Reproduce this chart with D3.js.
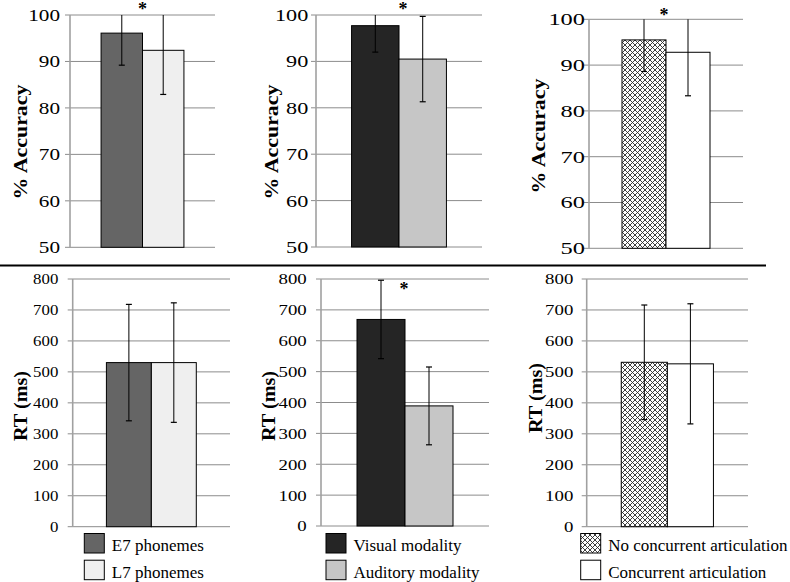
<!DOCTYPE html>
<html>
<head>
<meta charset="utf-8">
<script src="https://cdn.jsdelivr.net/npm/d3@7"></script>
<style>
  html, body { margin: 0; padding: 0; background: #fff; }
  svg { display: block; }
  svg text { font-family: "Liberation Serif", "Times New Roman", Times, "DejaVu Serif", serif; }
</style>
</head>
<body>
<svg id="chart" width="790" height="582"></svg>
<script>
// ---------------- DATA ----------------
const seriesPhonemes   = ["E7 phonemes", "L7 phonemes"];
const seriesModality   = ["Visual modality", "Auditory modality"];
const seriesArtic      = ["No concurrent articulation", "Concurrent articulation"];

const accPhonemes      = [96.1, 92.4];
const accPhonemesErr   = [6.9, 9.5];
const accModality      = [97.7, 90.5];
const accModalityErr   = [5.7, 9.2];
const accArtic         = [95.5, 92.8];
const accArticErr      = [6.9, 9.5];

const rtPhonemes       = [530, 530];
const rtPhonemesErr    = [188, 193];
const rtModality       = [669, 389];
const rtModalityErr    = [127, 126];
const rtArtic          = [531, 526];
const rtArticErr       = [185, 194];

const accTicks = [50, 60, 70, 80, 90, 100];
const rtTicks  = [0, 100, 200, 300, 400, 500, 600, 700, 800];
const accTitle = "% Accuracy";
const rtTitle  = "RT (ms)";

const sigAcc = [true, true, true];
const sigRt  = [false, true, false];

// ---------------- STYLE / LAYOUT ----------------
const fillsPhonemes = ["#656565", "#efefef"];
const fillsModality = ["#252525", "#c6c6c6"];
const fillsArtic    = ["url(#hatch)", "#ffffff"];

const panels = [
  // top row
  {row:0, series:seriesPhonemes, vals:accPhonemes, errs:accPhonemesErr, fills:fillsPhonemes, sig:sigAcc[0],
   x0:70, x1:215, y0:15, y1:247.3, gap:10, charW:10.6, tfs:17, titleX:20, titleY:142, starDy:-9},
  {row:0, series:seriesModality, vals:accModality, errs:accModalityErr, fills:fillsModality, sig:sigAcc[1],
   x0:316, x1:482, y0:15, y1:247, gap:7.7, charW:11.1, tfs:17, titleX:271, titleY:142, starDy:-9, starDx:4},
  {row:0, series:seriesArtic, vals:accArtic, errs:accArticErr, fills:fillsArtic, sig:sigAcc[2],
   x0:589, x1:743, y0:19.3, y1:248.3, gap:4, charW:12.2, tfs:17, titleX:538, titleY:136, starDy:-7, starDx:-2},
  // bottom row
  {row:1, series:seriesPhonemes, vals:rtPhonemes, errs:rtPhonemesErr, fills:fillsPhonemes, sig:sigRt[0],
   x0:72.7, x1:230, y0:279, y1:526.7, gap:14.4, charW:8.4, tfs:15.5, titleX:20, titleY:406,
   legX:84.3},
  {row:1, series:seriesModality, vals:rtModality, errs:rtModalityErr, fills:fillsModality, sig:sigRt[1],
   x0:321, x1:489, y0:279, y1:526, gap:14.3, charW:9.4, tfs:15.5, titleX:268, titleY:406, starDy:7, starDx:-1,
   legX:326},
  {row:1, series:seriesArtic, vals:rtArtic, errs:rtArticErr, fills:fillsArtic, sig:sigRt[2],
   x0:586.7, x1:748, y0:279, y1:526.7, gap:13.4, charW:9.4, tfs:15.5, titleX:535, titleY:398,
   legX:580.7}
];

const svg = d3.select("#chart");
const serif = "\"Liberation Serif\", \"Times New Roman\", Times, \"DejaVu Serif\", serif";

// hatch pattern (diagonal crosshatch)
const defs = svg.append("defs");
const pat = defs.append("pattern")
  .attr("id", "hatch").attr("patternUnits", "userSpaceOnUse")
  .attr("width", 5).attr("height", 5);
pat.append("rect").attr("width", 5).attr("height", 5).attr("fill", "#ffffff");
pat.append("path").attr("d", "M0,0 L5,5 M5,0 L0,5 M-1,4 L1,6 M4,-1 L6,1 M-1,1 L1,-1 M4,6 L6,4")
  .attr("stroke", "#2a2a2a").attr("stroke-width", 0.9).attr("fill", "none");

panels.forEach(p => {
  const ticks = p.row === 0 ? accTicks : rtTicks;
  const y = d3.scaleLinear().domain([ticks[0], ticks[ticks.length - 1]]).range([p.y1, p.y0]);
  const x = d3.scaleBand().domain(p.series).range([p.x0, p.x1]).paddingInner(0).paddingOuter(0.75);
  const g = svg.append("g");

  // gridlines
  g.selectAll("line.grid").data(ticks).join("line")
    .attr("class", "grid")
    .attr("x1", p.x0 - 5).attr("x2", p.x1)
    .attr("y1", d => y(d)).attr("y2", d => y(d))
    .attr("stroke", "#8c8c8c").attr("stroke-width", 1);

  // tick labels via axis
  const axis = d3.axisLeft(y).tickValues(ticks).tickSize(0).tickPadding(p.gap);
  const ag = g.append("g").attr("transform", `translate(${p.x0},0)`).call(axis);
  ag.attr("font-family", null).attr("font-size", null);
  ag.select(".domain").remove();
  ag.selectAll("text")
    .style("font-family", serif).style("font-size", p.tfs + "px").attr("fill", "#000")
    .attr("textLength", d => String(d).length * p.charW)
    .attr("lengthAdjust", "spacingAndGlyphs");

  // vertical axis line
  g.append("line")
    .attr("x1", p.x0).attr("x2", p.x0).attr("y1", p.y0).attr("y2", p.y1)
    .attr("stroke", "#a0a0a0").attr("stroke-width", 1.6);

  // bars
  const data = p.series.map((s, i) => ({s, v: p.vals[i], e: p.errs[i], f: p.fills[i]}));
  g.selectAll("rect.bar").data(data).join("rect")
    .attr("class", "bar")
    .attr("x", d => x(d.s)).attr("width", x.bandwidth())
    .attr("y", d => y(d.v)).attr("height", d => y(ticks[0]) - y(d.v))
    .attr("fill", d => d.f).attr("stroke", "#000").attr("stroke-width", 1);

  // error bars (clipped at axis max)
  const maxV = ticks[ticks.length - 1];
  const capW = 3;
  data.forEach(d => {
    const cx = x(d.s) + x.bandwidth() / 2;
    const hi = Math.min(d.v + d.e, maxV), lo = d.v - d.e;
    g.append("line").attr("x1", cx).attr("x2", cx).attr("y1", y(hi)).attr("y2", y(lo))
      .attr("stroke", "#000").attr("stroke-width", 1);
    g.append("line").attr("x1", cx - capW).attr("x2", cx + capW).attr("y1", y(lo)).attr("y2", y(lo))
      .attr("stroke", "#000").attr("stroke-width", 1.2);
    if (d.v + d.e <= maxV) {
      g.append("line").attr("x1", cx - capW).attr("x2", cx + capW).attr("y1", y(hi)).attr("y2", y(hi))
        .attr("stroke", "#000").attr("stroke-width", 1.2);
    }
  });

  // significance star
  if (p.sig) {
    const sx = x(p.series[1]) + (p.starDx || 0);
    g.append("text").attr("x", sx).attr("y", p.y0 + p.starDy + 9)
      .attr("text-anchor", "middle")
      .style("font-family", serif).style("font-weight", "bold").style("font-size", "18px")
      .text("*");
  }

  // y axis title
  const title = p.row === 0 ? accTitle : rtTitle;
  g.append("text")
    .attr("transform", `translate(${p.titleX},${p.titleY}) rotate(-90)`)
    .attr("text-anchor", "middle").attr("dominant-baseline", "central")
    .style("font-family", serif).style("font-weight", "bold").style("font-size", "19px")
    .attr("textLength", p.row === 0 ? 115 : 70).attr("lengthAdjust", "spacingAndGlyphs")
    .text(title);

  // legend (bottom row only)
  if (p.row === 1) {
    const lg = g.append("g");
    data.forEach((d, i) => {
      const ly = 533.5 + i * 26.7;
      lg.append("rect").attr("x", p.legX).attr("y", ly).attr("width", 20).attr("height", 19.5)
        .attr("fill", d.f).attr("stroke", "#000").attr("stroke-width", 1);
      lg.append("text").attr("x", p.legX + 27.5).attr("y", ly + 17.5)
        .style("font-family", serif).style("font-size", "17px").attr("fill", "#000")
        .text(d.s);
    });
  }
});

// separator line between rows
svg.append("line").attr("x1", 0).attr("x2", 766).attr("y1", 265.5).attr("y2", 265.5)
  .attr("stroke", "#000").attr("stroke-width", 2);
</script>
</body>
</html>
